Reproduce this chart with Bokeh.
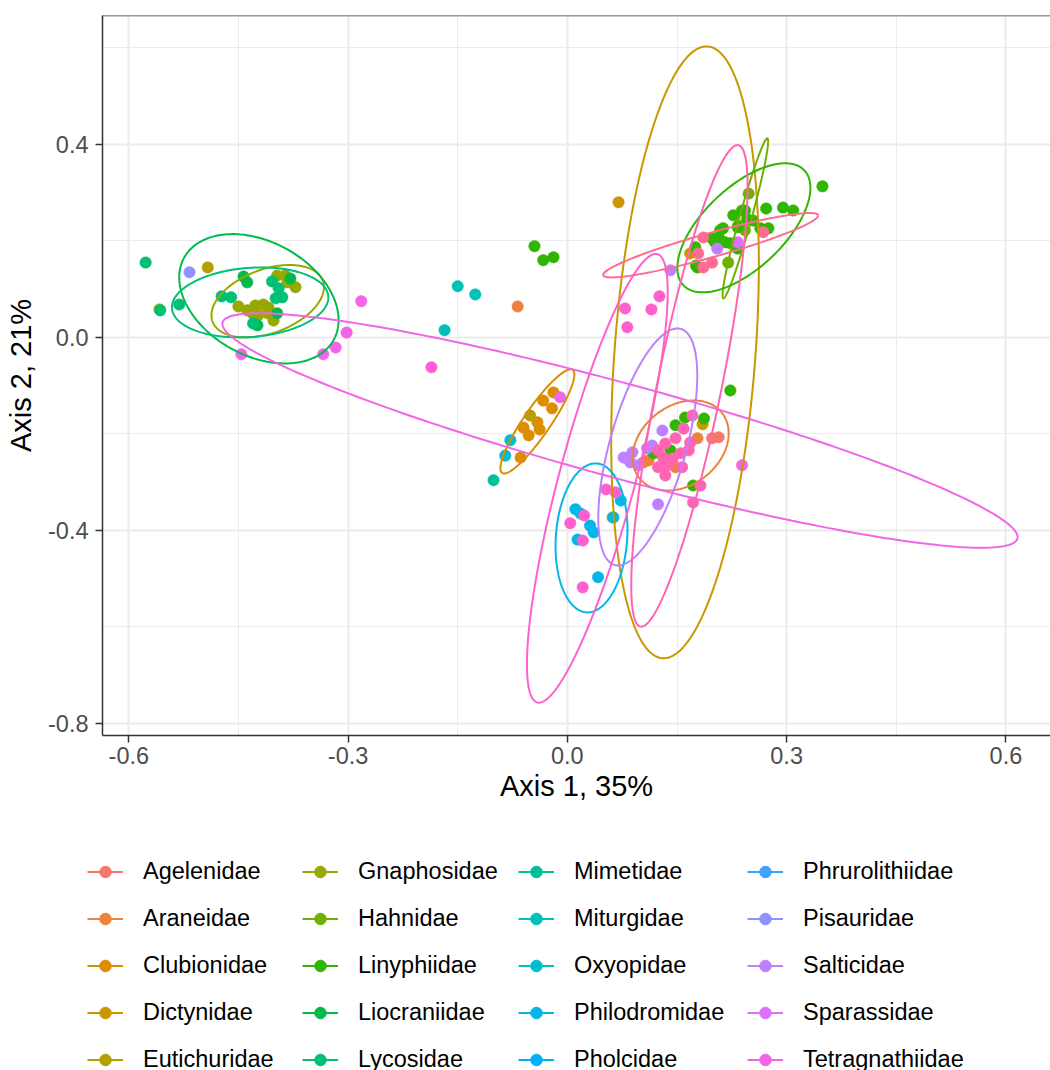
import math
import numpy as np
from bokeh.plotting import figure
from bokeh.layouts import column, row
from bokeh.models import Range1d, FixedTicker, Legend, LegendItem, Span, NumeralTickFormatter
from bokeh.embed import file_html
from bokeh.resources import INLINE

# ---------------- data ----------------
families = ["Agelenidae", "Araneidae", "Clubionidae", "Dictynidae", "Eutichuridae",
            "Gnaphosidae", "Hahnidae", "Linyphiidae", "Liocraniidae", "Lycosidae",
            "Mimetidae", "Miturgidae", "Oxyopidae", "Philodromidae", "Pholcidae",
            "Phrurolithiidae", "Pisauridae", "Salticidae", "Sparassidae", "Tetragnathiidae",
            "Theridiidae", "Thomisidae", "Titanoecidae"]
legend_families = families[:20]

agelenidae_x = [0.198, 0.207]
agelenidae_y = [-0.209, -0.207]
araneidae_x = [-0.068, 0.178, 0.111, 0.148, 0.104]
araneidae_y = [0.064, -0.209, -0.255, -0.269, -0.259]
clubionidae_x = [-0.019, -0.033, -0.021, -0.041, -0.060, -0.053, -0.038, -0.064, 0.062]
clubionidae_y = [-0.114, -0.131, -0.147, -0.176, -0.187, -0.203, -0.191, -0.249, -0.373]
dictynidae_x = [0.070, 0.185, 0.168]
dictynidae_y = [0.280, -0.180, 0.174]
eutichuridae_x = [-0.051, -0.492]
eutichuridae_y = [-0.162, 0.145]
gnaphosidae_x = [-0.558, -0.450, -0.438, -0.427, -0.416, -0.409, -0.402, -0.397, -0.386,
                 -0.372, -0.383, -0.431, -0.423, -0.410]
gnaphosidae_y = [0.058, 0.064, 0.056, 0.066, 0.068, 0.062, 0.035, 0.128, 0.128,
                 0.104, 0.114, 0.050, 0.046, 0.050]
hahnidae_x = [0.248, 0.234, 0.220, 0.243]
hahnidae_y = [0.298, 0.232, 0.155, 0.222]
linyphiidae_x = [0.349, 0.272, 0.295, 0.309, 0.275, 0.239, 0.246, 0.227, 0.233, 0.213,
                 0.207, 0.216, 0.233, 0.202, 0.264, 0.254, 0.178, 0.209, 0.198, 0.223,
                 0.175, 0.176, 0.243, -0.045, -0.033, -0.019,
                 0.148, 0.161, 0.187, 0.141, 0.172, 0.223, 0.118]
linyphiidae_y = [0.313, 0.267, 0.269, 0.263, 0.226, 0.263, 0.245, 0.253, 0.228, 0.226,
                 0.207, 0.197, 0.184, 0.197, 0.226, 0.242, 0.145, 0.222, 0.205, 0.195,
                 0.187, 0.149, 0.263, 0.189, 0.160, 0.166,
                 -0.182, -0.166, -0.168, -0.234, -0.307, -0.110, -0.240]
liocraniidae_x = [-0.443, -0.438, -0.397, -0.424, -0.379]
liocraniidae_y = [0.126, 0.114, 0.050, 0.025, 0.122]
lycosidae_x = [-0.577, -0.531, -0.473, -0.460, -0.404, -0.395, -0.390, -0.399, -0.430, -0.557]
lycosidae_y = [0.155, 0.068, 0.085, 0.083, 0.116, 0.102, 0.083, 0.081, 0.029, 0.056]
mimetidae_x = [-0.101]
mimetidae_y = [-0.296]
miturgidae_x = [-0.150, -0.126, -0.168]
miturgidae_y = [0.106, 0.089, 0.015]
oxyopidae_x = [-0.078, -0.085]
oxyopidae_y = [-0.213, -0.245]
philodromidae_x = [0.011, 0.018, 0.031, 0.036, 0.014, 0.063, 0.073, 0.042]
philodromidae_y = [-0.356, -0.365, -0.390, -0.404, -0.419, -0.373, -0.338, -0.497]
pholcidae_x = []
pholcidae_y = []
phrurolithiidae_x = []
phrurolithiidae_y = []
pisauridae_x = [-0.517]
pisauridae_y = [0.135]
salticidae_x = [0.141, 0.205, 0.130, 0.116, 0.109, 0.089, 0.077, 0.086, 0.097, 0.124]
salticidae_y = [0.139, 0.184, -0.193, -0.224, -0.230, -0.238, -0.249, -0.259, -0.265, -0.346]
sparassidae_x = [0.233]
sparassidae_y = [0.197]
tetragnathiidae_x = [-0.446, -0.334, -0.317, -0.302, -0.282, -0.010, 0.239]
tetragnathiidae_y = [-0.035, -0.035, -0.021, 0.010, 0.075, -0.124, -0.265]
theridiidae_x = [-0.186, 0.079, 0.082, 0.115, 0.126, 0.023, 0.004, 0.021, 0.021, 0.053, 0.066]
theridiidae_y = [-0.062, 0.060, 0.021, 0.058, 0.085, -0.369, -0.385, -0.421, -0.518, -0.315, -0.321]
thomisidae_x = [0.171, 0.159, 0.148, 0.134, 0.124, 0.131, 0.144, 0.155, 0.166, 0.157, 0.137,
                0.124, 0.134, 0.182, 0.168, 0.172]
thomisidae_y = [-0.162, -0.189, -0.209, -0.220, -0.234, -0.249, -0.251, -0.240, -0.234, -0.269,
                -0.265, -0.269, -0.286, -0.307, -0.218, -0.342]
titanoecidae_x = [0.186, 0.179, 0.198, 0.186, 0.268]
titanoecidae_y = [0.207, 0.174, 0.155, 0.145, 0.218]

# 95% ellipse summaries: centre, half extents along each axis, correlation
ell_family = ["Araneidae", "Clubionidae", "Dictynidae", "Gnaphosidae", "Hahnidae",
              "Linyphiidae", "Liocraniidae", "Lycosidae", "Philodromidae", "Salticidae",
              "Tetragnathiidae", "Theridiidae", "Thomisidae", "Titanoecidae"]
ell_cx = [0.155, -0.041, 0.161, -0.410, 0.2435, 0.2415, -0.422, -0.434, 0.033, 0.110,
          0.072, 0.041, 0.167, 0.196]
ell_cy = [-0.224, -0.174, -0.031, 0.075, 0.2466, 0.227, 0.080, 0.0725, -0.4155, -0.227,
          -0.193, -0.292, -0.1005, 0.191]
ell_hx = [0.0657, 0.0506, 0.101, 0.077, 0.0312, 0.091, 0.109, 0.107, 0.0492, 0.0677,
          0.544, 0.0963, 0.0796, 0.147]
ell_hy = [0.0933, 0.108, 0.634, 0.075, 0.1658, 0.1337, 0.134, 0.0725, 0.1544, 0.2456,
          0.243, 0.465, 0.499, 0.0667]
ell_r = [0.27, 0.90, 0.29, 0.39, 0.962, 0.62, -0.33, 0.14, 0.11, 0.60,
         -0.909, 0.829, 0.827, 0.921]

x_ticks = [-0.6, -0.3, 0.0, 0.3, 0.6]
x_minor = [-0.45, -0.15, 0.15, 0.45]
y_ticks = [-0.8, -0.4, 0.0, 0.4]
y_minor = [-0.6, -0.2, 0.2, 0.6]

points = {f: (globals()[f.lower() + "_x"], globals()[f.lower() + "_y"]) for f in families}


# ggplot2 default hue palette (hcl, c=100, l=65)
def hcl_hex(h, c=100.0, l=65.0):
    WX, WY, WZ = 95.047, 100.0, 108.883
    hr = math.radians(h)
    U, V = c * math.cos(hr), c * math.sin(hr)
    Y = WY * ((l + 16.0) / 116.0) ** 3
    t = WX + 15.0 * WY + 3.0 * WZ
    un, vn = 4.0 * WX / t, 9.0 * WY / t
    u = U / (13.0 * l) + un
    v = V / (13.0 * l) + vn
    X = 9.0 * Y * u / (4.0 * v)
    Z = -X / 3.0 - 5.0 * Y + 3.0 * Y / v
    X, Y, Z = X / 100.0, Y / 100.0, Z / 100.0
    rgb = [3.240479 * X - 1.537150 * Y - 0.498535 * Z,
           -0.969256 * X + 1.875992 * Y + 0.041556 * Z,
           0.055648 * X - 0.204043 * Y + 1.057311 * Z]
    out = []
    for ch in rgb:
        ch = 1.055 * ch ** (1 / 2.4) - 0.055 if ch > 0.0031308 else 12.92 * ch
        out.append(int(round(255 * min(max(ch, 0.0), 1.0))))
    return "#%02X%02X%02X" % tuple(out)


n = len(families)
hues = np.linspace(15, 375, n + 1)[:n]
colors = {f: hcl_hex(h) for f, h in zip(families, hues)}

FONT = "Liberation Sans"
LEFT = 102

MAIN_H = 830
p = figure(frame_width=948, frame_height=720,
           x_range=Range1d(-0.636, 0.661), y_range=Range1d(-0.825, 0.667),
           min_border_left=LEFT, min_border_right=0, min_border_top=15,
           min_border_bottom=MAIN_H - 15 - 720,
           output_backend="svg", toolbar_location=None,
           background_fill_color="white", border_fill_color="white")
p.outline_line_color = None

xt = FixedTicker(ticks=x_ticks, minor_ticks=x_minor)
yt = FixedTicker(ticks=y_ticks, minor_ticks=y_minor)
p.xaxis.ticker = xt
p.yaxis.ticker = yt
p.xgrid.ticker = xt
p.ygrid.ticker = yt
for g in (p.xgrid, p.ygrid):
    g.grid_line_color = "#EBEBEB"
    g.grid_line_width = 2
    g.minor_grid_line_color = "#EBEBEB"
    g.minor_grid_line_width = 1

for ax in (p.xaxis, p.yaxis):
    ax.formatter = NumeralTickFormatter(format="0.0")
    ax.axis_line_color = "#333333"
    ax.axis_line_width = 1.5
    ax.major_tick_line_color = "#333333"
    ax.major_tick_line_width = 1.5
    ax.major_tick_out = 7
    ax.major_tick_in = 0
    ax.minor_tick_line_color = None
    ax.major_label_text_font = FONT
    ax.major_label_text_font_size = "23.5px"
    ax.major_label_text_color = "#4D4D4D"
    ax.axis_label_text_font = FONT
    ax.axis_label_text_font_size = "29px"
    ax.axis_label_text_font_style = "normal"
    ax.axis_label_text_color = "black"
p.xaxis.axis_label = "Axis 1, 35%"
p.yaxis.axis_label = "Axis 2, 21%"
p.xaxis.major_label_standoff = 4
p.xaxis.axis_label_standoff = 3
p.yaxis.major_label_standoff = 7
p.yaxis.axis_label_standoff = 8

p.add_layout(Span(location=0.667, dimension="width", line_color="#333333", line_width=1.5))

for f in families:
    xs, ys = points[f]
    p.scatter(xs, ys, size=11.5, marker="circle",
              fill_color=colors[f], line_color=colors[f], line_width=0.5)

tt = np.linspace(0, 2 * np.pi, 241)
for f, cx, cy, hx, hy, r in zip(ell_family, ell_cx, ell_cy, ell_hx, ell_hy, ell_r):
    ex = cx + hx * np.cos(tt)
    ey = cy + hy * (r * np.cos(tt) + math.sqrt(1 - r * r) * np.sin(tt))
    p.line(ex, ey, line_color=colors[f], line_width=2)

# ---------------- legend (4 columns x 5 rows) below the panel ----------------
LEG_H = 240
pl = figure(frame_width=1050, height=LEG_H, x_range=Range1d(0, 1050), y_range=Range1d(0, LEG_H),
            x_axis_type=None, y_axis_type=None, min_border=0,
            output_backend="svg", toolbar_location=None,
            background_fill_color="white", border_fill_color="white")
pl.outline_line_color = None
pl.grid.visible = False

col_x = [87, 302, 518, 747]
item_h, spacing = 29, 18
row1_center = 871 - MAIN_H
leg_top = row1_center - item_h / 2
leg_bottom = leg_top + 5 * item_h + 4 * spacing
for ci in range(4):
    items = []
    for f in legend_families[ci * 5:(ci + 1) * 5]:
        lr = pl.line([np.nan, np.nan], [np.nan, np.nan], line_color=colors[f], line_width=2)
        sr = pl.scatter([np.nan], [np.nan], size=11.5, marker="circle",
                        fill_color=colors[f], line_color=colors[f])
        items.append(LegendItem(label=f, renderers=[lr, sr]))
    lg = Legend(items=items, location=(col_x[ci], LEG_H - leg_bottom),
                orientation="vertical", padding=0, margin=0, spacing=spacing,
                glyph_width=36, glyph_height=item_h, label_height=item_h,
                label_standoff=20, label_text_font=FONT, label_text_font_size="23.5px",
                label_text_color="black", border_line_color=None, background_fill_alpha=0)
    pl.add_layout(lg)

layout = column(p, row(pl, spacing=0), spacing=0)
open("out.html", "w").write(file_html(layout, INLINE))
